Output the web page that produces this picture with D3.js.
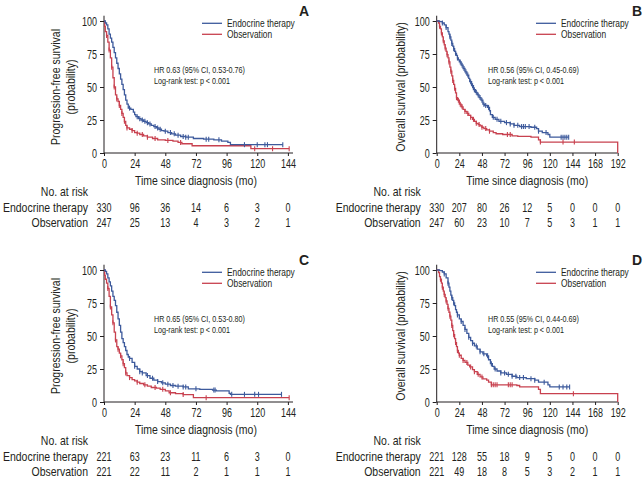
<!DOCTYPE html>
<html><head><meta charset="utf-8">
<script src="https://cdn.jsdelivr.net/npm/d3@7"></script>
<style>
body{margin:0;background:#fff}
svg{display:block}
text{font-family:"Liberation Sans",Arial,sans-serif;fill:#231f20}
</style>
</head><body><svg id="c" width="643" height="483"></svg>
<script>
// ---------- shared labels ----------
const seriesNames = ["Endocrine therapy", "Observation"];
const yTicks = [0, 25, 50, 75, 100];
const xTicksPFS = [0, 24, 48, 72, 96, 120, 144];
const xTicksOS = [0, 24, 48, 72, 96, 120, 144, 168, 192];
const xTitle = "Time since diagnosis (mo)";
const riskTitle = "No. at risk";

// ---------- Panel A : PFS ----------
const pfsA_endo = [[0,100],[1,98.5],[2,97],[3,94],[4,90],[5,87],[6,84],[7,80],[8,76],[9,72],[10,68],[11,64],[12,60],[13,56],[14,52],[15,48],[16,44],[17,40],[18,37],[19,34],[21,33],[23,31],[24,29],[25,27.5],[27,26],[29,25],[31,24],[33,23],[35,22],[37,21],[39,20],[41,19],[43,18],[45,17],[47,16.5],[50,15.5],[53,14.5],[56,13.5],[60,12.5],[64,12],[70,11],[78,10.5],[86,10],[92,9],[97,8],[99,6.3],[140,6.3]];
const pfsA_obs = [[0,100],[0.5,96],[1,92],[2,89],[3,84],[4,78],[5,72],[6,65],[7,57],[8,50],[9,44],[10,41],[11,39],[12,36],[13,33],[14,30],[15,27],[16,24],[17,21],[18,19],[20,18],[22,17],[24,15.5],[26,15],[28,14],[31,13],[34,12],[38,11],[42,10],[48,9.5],[54,9],[58,8],[61,7],[69,5.5],[115,3.3],[145,3.3]];
const censA_endo = [20,26,28,30,32,34,36,40,42,44,48,52,55,58,62,64,66,80,82,90,110,120,126,128,140];
const censA_obs = [2,4,6,8,10,12,14,16,18,22,26,30,34,40,50,60,118,132,145];
const riskA_endo = [330,96,36,14,6,3,0];
const riskA_obs = [247,25,13,4,3,2,1];
const hrA = ["HR 0.63 (95% CI, 0.53-0.76)", "Log-rank test: p < 0.001"];

// ---------- Panel B : OS ----------
const osB_endo = [[0,100],[3,99.5],[6,98.5],[8,97],[10,95],[12,92],[13,90],[14,88],[15,85.5],[16,83],[17,81],[18,79],[19,77],[20,75.5],[21,74],[22,72],[23,70.5],[24,69],[26,66.5],[28,64],[30,61.5],[32,59],[34,56.5],[35,54],[37,51],[39,48],[41,46],[43,44],[45,42],[47,40],[49,37],[51,36],[54,34.5],[56,32],[57,29],[59,27],[62,25.5],[66,24],[72,23],[78,22],[82,21],[88,20],[100,19.5],[106,18.5],[108,16.5],[112,15.5],[118,14],[120,12],[140,12]];
const osB_obs = [[0,100],[2,98.5],[3,96],[4,94],[5,91],[6,88],[7,85],[8,82],[9,79.5],[10,77],[11,74.5],[12,72],[13,69],[14,65],[15,62],[16,58.5],[17,55],[18,52],[19,49],[20,45.5],[21,42],[22,40],[24,37],[26,35],[28,33],[30,31.5],[32,30],[34,28.5],[36,27],[38,25.5],[40,24],[42,22.5],[44,21.5],[46,20.5],[48,19.5],[50,18.5],[53,17.5],[56,16.5],[60,15.5],[63,14.6],[70,14],[80,13],[86,12.6],[100,12],[108,10],[110,8.3],[192,8.3],[192,0]];
const censB_endo = [6,10,14,16,18,20,22,25,27,29,31,33,36,38,40,42,44,46,48,50,52,55,60,64,68,74,78,82,86,90,92,94,98,104,108,116,132,134,136,138,140];
const censB_obs = [3,5,7,9,11,13,15,17,19,21,23,25,27,30,33,36,39,42,45,48,52,56,75,78,110,134,146];
const riskB_endo = [330,207,80,26,12,5,0,0,0];
const riskB_obs = [247,60,23,10,7,5,3,1,1];
const hrB = ["HR 0.56 (95% CI, 0.45-0.69)", "Log-rank test: p < 0.001"];

// ---------- Panel C : PFS ----------
const pfsC_endo = [[0,100],[1,99],[2,97],[3,94],[4,91],[5,88],[6,84],[7,80],[8,77],[9,73],[10,68],[11,63],[12,58],[13,53],[14,48],[15,45],[16,42],[17,39],[18,36],[19,34],[20,33],[22,30],[24,27],[26,25],[28,23],[30,22],[33,20],[36,18],[39,16.5],[42,15.5],[45,14.5],[48,13.5],[52,12.5],[56,12],[62,11.4],[66,10],[75,9.6],[85,9],[88,8.5],[98,6.5],[99,5.8],[139,5.8]];
const pfsC_obs = [[0,100],[0.5,96],[1,93],[2,90],[3,86],[4,80],[5,72],[6,66],[7,60],[8,53],[9,47],[10,42],[11,40],[12,37],[13,35],[14,32],[15,29],[16,26],[17,22],[18,20],[20,18.5],[22,17],[24,16],[26,15],[28,14],[31,13],[34,12],[37,11],[41,10.5],[44,9.6],[48,8.5],[51,7],[56,6.3],[62,5.6],[70,3.3],[145,3.3]];
const censC_endo = [20,24,28,30,34,38,42,46,50,54,58,62,64,72,86,87,100,110,118,121,139];
const censC_obs = [3,5,7,9,11,13,15,17,20,26,32,40,46,52,62,80,145];
const riskC_endo = [221,63,23,11,6,3,0];
const riskC_obs = [221,22,11,2,1,1,1];
const hrC = ["HR 0.65 (95% CI, 0.53-0.80)", "Log-rank test: p < 0.001"];

// ---------- Panel D : OS ----------
const osD_endo = [[0,100],[3,99.5],[6,98.5],[8,97],[10,94],[12,90],[13,87],[14,84],[15,81],[16,79],[17,77],[18,75],[19,73],[20,70],[21,68],[22,66],[24,63],[26,61],[28,58],[30,55],[32,52],[34,49],[36,46.5],[38,44.5],[40,42.5],[43,40],[46,38],[49,36.5],[53,35],[55,32],[57,29],[59,27],[61,25],[64,23.5],[68,22],[74,21],[80,19.5],[85,18.5],[95,17.7],[104,16.5],[108,15],[118,13],[120,11.4],[141,11.4]];
const osD_obs = [[0,100],[2,98],[3,95],[4,93],[5,90],[6,87],[7,84],[8,81.5],[9,79],[10,76.5],[11,74],[12,71],[13,68],[14,65],[15,62],[16,58],[17,54],[18,51],[19,48],[20,45],[21,42],[22,39],[23,37],[24,35.4],[26,33],[28,31.5],[30,30],[33,28],[35,26.6],[38,24.5],[40,23],[43,21],[46,19],[49,17.5],[53,16.5],[55,15],[58,13],[85,12.5],[88,11.4],[108,9.6],[110,6.3],[192,6.3],[192,0]];
const censD_endo = [8,12,16,18,22,26,30,34,38,42,46,50,54,58,62,68,72,76,80,84,88,92,100,104,114,130,134,138,141];
const censD_obs = [4,6,8,10,12,14,16,18,20,22,24,28,32,36,40,44,48,58,60,62,64,76,78,80,145];
const riskD_endo = [221,128,55,18,9,5,0,0,0];
const riskD_obs = [221,49,18,8,5,3,2,1,1];
const hrD = ["HR 0.55 (95% CI, 0.44-0.69)", "Log-rank test: p < 0.001"];

// ---------- style ----------
const colors = ["#3d5a9c", "#c8414f"];
const ink = "#231f20";
const SX_TXT = 0.82;   // condensed look for words
const SX_NUM = 0.72;   // condensed look for numbers

const svg = d3.select("#c");

function T(parent, x, y, str, o){
  o = o || {};
  const rot = o.rotate ? ` rotate(${o.rotate})` : "";
  return parent.append("text")
    .attr("transform", `translate(${x},${y})${rot} scale(${o.sx || SX_TXT},1)`)
    .attr("text-anchor", o.anchor || "start")
    .attr("font-size", o.size || 12.8)
    .attr("font-weight", o.weight || null)
    .attr("dominant-baseline", o.baseline || null)
    .text(str);
}

const panels = [
  {letter:"A", letterX:299, left:104, right:293, xMax:148, ticks:xTicksPFS, top:21, ylab:["Progression-free survival","(probability)"], ylabX:[57,71.5], hr:hrA, hrX:154, legX:202, series:[pfsA_endo,pfsA_obs], cens:[censA_endo,censA_obs], risk:[riskA_endo,riskA_obs], labRight:88},
  {letter:"B", letterX:632, left:436.7, right:617.7, xMax:192, ticks:xTicksOS, top:21, ylab:["Overall survival (probability)"], ylabX:[402], hr:hrB, hrX:488, legX:536, series:[osB_endo,osB_obs], cens:[censB_endo,censB_obs], risk:[riskB_endo,riskB_obs], labRight:420.7},
  {letter:"C", letterX:299, left:104, right:293, xMax:148, ticks:xTicksPFS, top:270, ylab:["Progression-free survival","(probability)"], ylabX:[57,71.5], hr:hrC, hrX:154, legX:202, series:[pfsC_endo,pfsC_obs], cens:[censC_endo,censC_obs], risk:[riskC_endo,riskC_obs], labRight:88},
  {letter:"D", letterX:632, left:436.7, right:617.7, xMax:192, ticks:xTicksOS, top:270, ylab:["Overall survival (probability)"], ylabX:[402], hr:hrD, hrX:488, legX:536, series:[osD_endo,osD_obs], cens:[censD_endo,censD_obs], risk:[riskD_endo,riskD_obs], labRight:420.7}
];

function stepValue(pts, t){
  let v = pts[0][1];
  for (const p of pts){ if (p[0] <= t) v = p[1]; else break; }
  return v;
}

panels.forEach(p => {
  const g = svg.append("g");
  const bottom = p.top + 132;
  const x = d3.scaleLinear().domain([0, p.xMax]).range([p.left, p.right]);
  const y = d3.scaleLinear().domain([0, 100]).range([bottom, p.top]);

  // y axis
  const ya = g.append("g").attr("transform", `translate(${p.left},0)`)
    .call(d3.axisLeft(y).tickValues(yTicks).tickSize(4).tickPadding(2).tickFormat(d3.format("d")));
  ya.select(".domain").remove();
  ya.selectAll("line").attr("stroke", ink);
  ya.selectAll("text").attr("font-size", 12.5).attr("fill", ink).style("font-family", null)
    .attr("x", -7 / SX_NUM).attr("transform", `scale(${SX_NUM},1)`);
  g.append("line").attr("x1", p.left).attr("x2", p.left).attr("y1", bottom).attr("y2", y(104)).attr("stroke", ink);

  // x axis
  const xa = g.append("g").attr("transform", `translate(0,${bottom})`)
    .call(d3.axisBottom(x).tickValues(p.ticks).tickSize(3).tickPadding(3).tickFormat(d3.format("d")));
  xa.select(".domain").remove();
  xa.selectAll("line").attr("stroke", ink);
  xa.selectAll("text").attr("font-size", 12.5).attr("fill", ink).style("font-family", null)
    .attr("transform", `scale(${SX_NUM},1)`);
  g.append("line").attr("x1", p.left).attr("x2", p.right).attr("y1", bottom).attr("y2", bottom).attr("stroke", ink);

  // curves
  const line = d3.line().x(d => x(d[0])).y(d => y(d[1])).curve(d3.curveStepAfter);
  [1, 0].forEach(i => {
    g.append("path").datum(p.series[i]).attr("d", line)
      .attr("fill", "none").attr("stroke", colors[i]).attr("stroke-width", 1.3);
    g.selectAll(null).data(p.cens[i]).enter().append("line")
      .attr("x1", d => x(d)).attr("x2", d => x(d))
      .attr("y1", d => y(stepValue(p.series[i], d)) - 2.5)
      .attr("y2", d => y(stepValue(p.series[i], d)) + 2.5)
      .attr("stroke", colors[i]).attr("stroke-width", 1.1);
  });

  // y label
  p.ylab.forEach((t, i) => {
    T(g, p.ylabX[i], (p.top + bottom) / 2, t, {rotate: -90, anchor: "middle", baseline: "middle", size: 12.8});
  });

  // legend
  seriesNames.forEach((n, i) => {
    const ly = p.top + 2.3 + i * 11;
    g.append("line").attr("x1", p.legX).attr("x2", p.legX + 20).attr("y1", ly).attr("y2", ly)
      .attr("stroke", colors[i]).attr("stroke-width", 1.3);
    T(g, p.legX + 25, ly + 3.7, n, {size: 10.2});
  });

  // HR text
  p.hr.forEach((t, i) => {
    T(g, p.hrX, p.top + 51.5 + i * 11, t, {size: 9, sx: 0.8});
  });

  // panel letter
  T(g, p.letterX, p.top - 5, p.letter, {size: 14, weight: "bold", sx: 1});

  // x title
  T(g, (x(0) + x(p.ticks[p.ticks.length - 1])) / 2, bottom + 32, xTitle, {anchor: "middle", size: 12.8});

  // risk table
  T(g, p.labRight, bottom + 43, riskTitle, {anchor: "end", size: 12.8});
  seriesNames.forEach((n, i) => {
    const ry = bottom + 59 + i * 15;
    T(g, p.labRight, ry, n, {anchor: "end", size: 12.8});
    p.risk[i].forEach((d, j) => {
      T(g, x(p.ticks[j]), ry, String(d), {anchor: "middle", size: 12.5, sx: SX_NUM});
    });
  });
});
</script>
</body></html>
